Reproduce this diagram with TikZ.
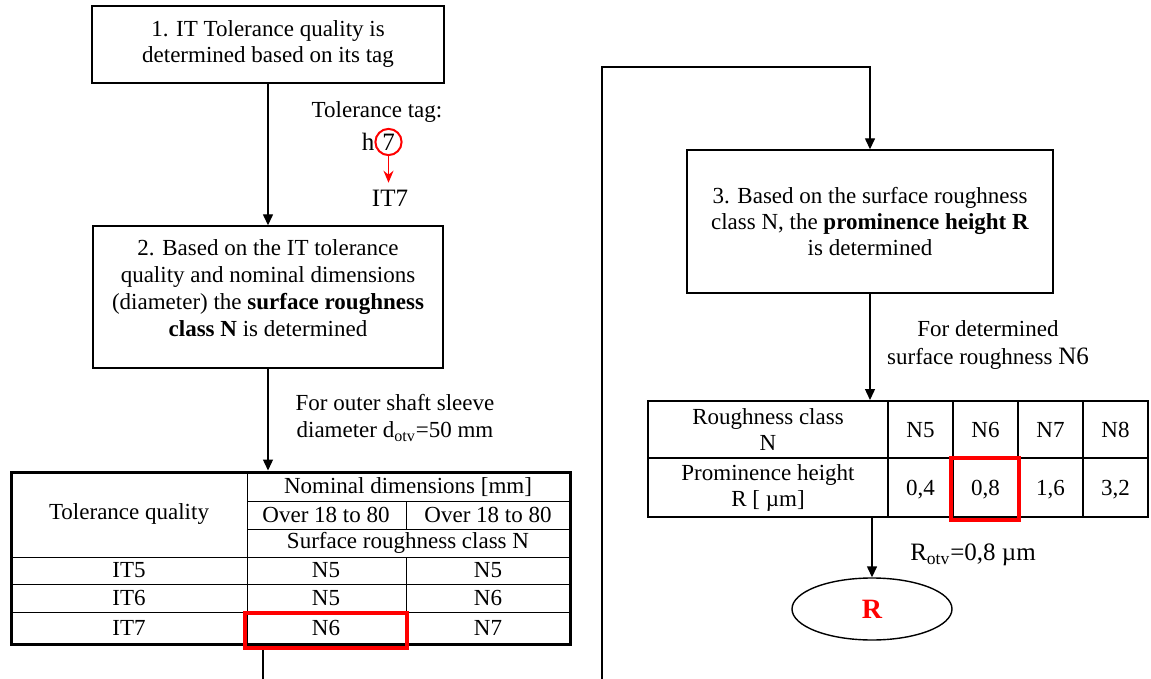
\documentclass[tikz,border=0pt]{standalone}
\usepackage{fontspec}
\setmainfont{Liberation Serif}
\usepackage{tikz}
\usetikzlibrary{arrows.meta,shapes.geometric,positioning,calc}

\begin{document}
\begin{tikzpicture}[x=0.5pt,y=-0.5pt,font=\fontsize{11.5}{13}\selectfont,
  stepbox/.style={draw,line width=0.7pt,align=center,inner sep=0pt},
  arr/.style={-{Triangle[length=5.5pt,width=5pt]},line width=0.7pt},
  selbox/.style={draw=red,line width=2pt,inner sep=0pt},
  big/.style={font=\fontsize{12.5}{15}\selectfont}]
 \useasboundingbox (0,0) rectangle (1151,679);
 \node[stepbox,minimum width=176pt,minimum height=38.5pt] (box1) at (268,44.5) {1. IT Tolerance quality is\\determined based on its tag};
 \node[stepbox,minimum width=175pt,minimum height=71pt] (box2) at (268,297) {};
 \node[align=center,font=\fontsize{11.5}{13.5}\selectfont] (box2t) at (268,288) {2. Based on the IT tolerance\\quality and nominal dimensions\\(diameter) the \textbf{surface roughness}\\\textbf{class N} is determined};
 \node[stepbox,minimum width=183pt,minimum height=71.5pt] (box3) at (870,221.5) {3. Based on the surface roughness\\class N, the \textbf{prominence height R}\\is determined};

 \node (tagL) at (377,112) {Tolerance tag:};
 \node[big] (tagH) at (368,142) {h};
 \node[big,circle,draw=red,line width=1pt,inner sep=1pt] (tagN) at (388.5,142) {7};
 \node[big] (it7) at (390,198) {IT7};
 \draw[red,line width=0.8pt,-{Stealth[length=6pt,width=5pt]}] (tagN.south) -- (tagN.south |- it7.north);
 \draw[arr] (box1.south) -- (box2.north);

 \node[align=center,font=\fontsize{11.5}{13.5}\selectfont] (forA) at (395,418) {For outer shaft sleeve\\diameter d\textsubscript{otv}=50 mm};
 \node[draw,line width=1.5pt,minimum width=279.5pt,minimum height=86pt,inner sep=0pt] (tabA) at (290.5,558) {};
 \draw[arr] (box2.south) -- (box2.south |- tabA.north);
 \draw[line width=0.4pt] (247,472) -- (247,644) (406,501) -- (406,529) (406,557) -- (406,644);
 \foreach \y in {501,529} \draw[line width=0.4pt] (247,\y) -- (570,\y);
 \foreach \y in {557,584,612} \draw[line width=0.4pt] (11,\y) -- (570,\y);
 \node (tq) at (129,514) {Tolerance quality};
 \node (nd) at (408,487) {Nominal dimensions [mm]};
 \node (ovA) at (326,515) {Over 18 to 80}; \node (ovB) at (488,515) {Over 18 to 80};
 \node (src) at (408,543) {Surface roughness class N};
 \foreach \r/\y/\a/\b in {5/570/N5/N5,6/598/N5/N6,7/628/N6/N7} {
   \node (q\r) at (129,\y) {IT\r}; \node (qa\r) at (326,\y) {\a}; \node (qb\r) at (488,\y) {\b};
 }
 \node[selbox,minimum width=81pt,minimum height=17.5pt] (selA) at (326,630.5) {};

 \coordinate (lpA) at (263,700); \coordinate (lpB) at (602,67);
 \draw[arr] (selA.south -| lpA) -- (lpA) -| (lpB) -| (box3.north);

 \node[align=center,font=\fontsize{11.5}{14}\selectfont] (forB) at (988,345) {For determined\\surface roughness {\fontsize{12.5}{14}\selectfont N6}};
 \node[draw,line width=1pt,minimum width=250pt,minimum height=58pt,inner sep=0pt] (tabB) at (898,459) {};
 \draw[arr] (box3.south) -- (box3.south |- tabB.north);
 \draw[line width=1pt] (648,458) -- (1148,458);
 \foreach \x in {888,953,1018,1083} \draw[line width=1pt] (\x,401) -- (\x,517);
 \node[align=center] (rc) at (768,430) {Roughness class\\N};
 \node[align=center] (ph) at (768,488) {Prominence height\\R [ µm]};
 \foreach \x/\n/\v in {920.5/N5/{0,4},985.5/N6/{0,8},1050.5/N7/{1,6},1115.5/N8/{3,2}} {
   \node (c\n) at (\x,430) {\n}; \node (v\n) at (\x,490) {\v};
 }
 \node[selbox,minimum width=34pt,minimum height=31pt] (selB) at (985,489) {};

 \node[draw,ellipse,line width=0.7pt,minimum width=80pt,minimum height=31pt,text=red,font=\bfseries\fontsize{14}{16}\selectfont] (ellR) at (872,609) {R};
 \draw[arr] (ellR.north |- tabB.south) -- (ellR.north);
 \node[big] (rotv) at (973,555) {R\textsubscript{otv}=0,8 µm};
\end{tikzpicture}
\end{document}
